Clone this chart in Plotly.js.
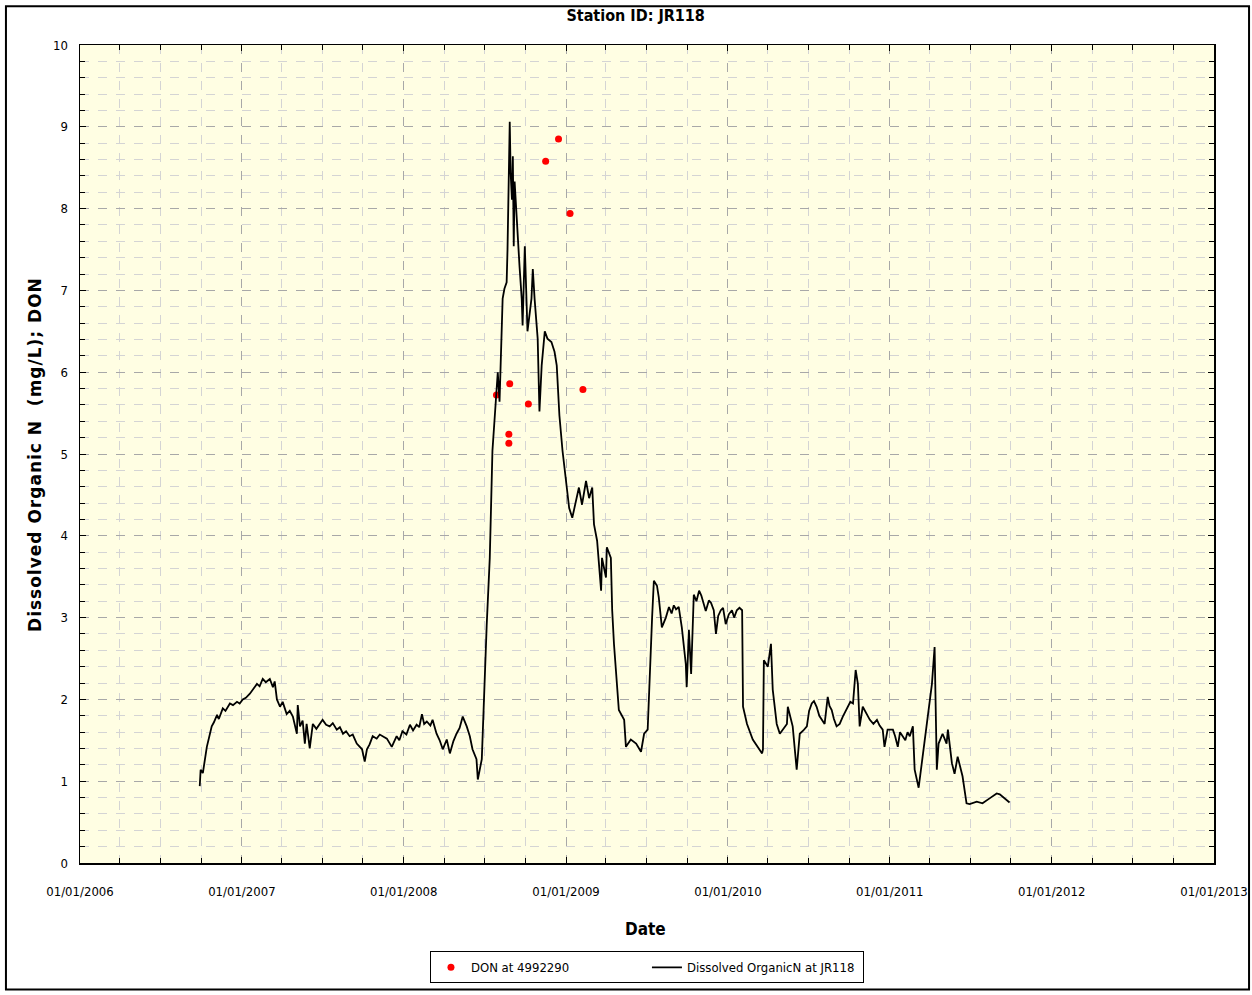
<!DOCTYPE html>
<html>
<head>
<meta charset="utf-8">
<script src="https://cdn.plot.ly/plotly-3.0.1.min.js"></script>
<style>
html,body{margin:0;padding:0;background:#fff;}
#chart{width:1252px;height:995px;}
.annotation[data-index="0"] text{letter-spacing:1px;}
</style>
</head>
<body>
<div id="chart"></div>
<script>
// ---- data ----
const chartTitle = "Station ID: JR118";
const xTitle = "Date";
const yTitle = "Dissolved Organic N&nbsp;&nbsp;(mg/L); DON";
const seriesPointsName = "DON at 4992290";
const seriesLineName = "Dissolved OrganicN at JR118";

const donDates = ["2008-07-28","2008-08-25","2008-08-25","2008-08-27","2008-10-08","2008-11-16","2008-12-15","2009-01-10","2009-02-08"];
const donValues = [5.72,5.24,5.13,5.86,5.61,8.58,8.85,7.94,5.79];

const lineDates = [
"2006-09-28","2006-09-30","2006-10-05","2006-10-14","2006-10-25","2006-10-30","2006-11-06","2006-11-10","2006-11-19","2006-11-25",
"2006-12-05","2006-12-12","2006-12-21","2006-12-27","2007-01-03","2007-01-10","2007-01-19","2007-01-26","2007-02-04","2007-02-10",
"2007-02-17","2007-02-24","2007-03-05","2007-03-12","2007-03-16","2007-03-21","2007-03-28","2007-04-03","2007-04-12","2007-04-19",
"2007-04-26","2007-05-05","2007-05-07","2007-05-12","2007-05-18","2007-05-23","2007-05-27","2007-06-03","2007-06-10","2007-06-18",
"2007-06-26","2007-07-02","2007-07-10","2007-07-18","2007-07-25","2007-08-03","2007-08-10","2007-08-17","2007-08-24","2007-09-01",
"2007-09-08","2007-09-17","2007-09-29","2007-10-05","2007-10-10","2007-10-16","2007-10-23","2007-11-01","2007-11-08","2007-11-16",
"2007-11-24","2007-12-05","2007-12-16","2007-12-22","2007-12-29","2008-01-07","2008-01-15","2008-01-22","2008-01-30","2008-02-05",
"2008-02-11","2008-02-16","2008-02-22","2008-03-01","2008-03-06","2008-03-15","2008-03-22","2008-03-29","2008-04-07","2008-04-14",
"2008-04-22","2008-04-29","2008-05-06","2008-05-13","2008-05-22","2008-05-29","2008-06-04","2008-06-13","2008-06-16","2008-06-25",
"2008-06-27","2008-07-01","2008-07-06","2008-07-13","2008-07-17","2008-07-19","2008-07-24","2008-07-28","2008-07-31","2008-08-04",
"2008-08-09","2008-08-11","2008-08-15","2008-08-20","2008-08-22","2008-08-27","2008-08-29","2008-09-01","2008-09-03","2008-09-05",
"2008-09-07","2008-09-12","2008-09-14","2008-09-18","2008-09-23","2008-09-25","2008-09-30","2008-10-04","2008-10-06","2008-10-15",
"2008-10-18","2008-10-22","2008-10-27","2008-10-29","2008-11-02","2008-11-07","2008-11-14","2008-11-20","2008-11-29","2008-12-06",
"2008-12-11","2008-12-17","2008-12-24","2009-01-01","2009-01-08","2009-01-15","2009-01-24","2009-01-30","2009-02-06","2009-02-15",
"2009-02-22","2009-03-01","2009-03-05","2009-03-12","2009-03-21","2009-03-23","2009-04-01","2009-04-03","2009-04-12","2009-04-15",
"2009-04-19","2009-04-24","2009-04-30","2009-05-12","2009-05-16","2009-05-27","2009-06-08","2009-06-19","2009-06-26","2009-07-04",
"2009-07-11","2009-07-14","2009-07-18","2009-07-25","2009-07-29","2009-08-05","2009-08-14","2009-08-21","2009-08-27","2009-09-01",
"2009-09-06","2009-09-12","2009-09-19","2009-09-28","2009-09-30","2009-10-05","2009-10-10","2009-10-12","2009-10-16","2009-10-22",
"2009-10-28","2009-11-02","2009-11-08","2009-11-12","2009-11-19","2009-11-24","2009-11-30","2009-12-05","2009-12-10","2009-12-16",
"2009-12-21","2009-12-27","2010-01-03","2010-01-10","2010-01-15","2010-01-21","2010-01-27","2010-02-02","2010-02-04","2010-02-13",
"2010-02-26","2010-03-10","2010-03-19","2010-03-21","2010-03-23","2010-04-01","2010-04-08","2010-04-12","2010-04-21","2010-04-28",
"2010-05-14","2010-05-16","2010-05-27","2010-06-05","2010-06-12","2010-06-20","2010-06-28","2010-07-03","2010-07-09","2010-07-14",
"2010-07-20","2010-07-26","2010-08-01","2010-08-07","2010-08-14","2010-08-18","2010-08-23","2010-08-28","2010-09-03","2010-09-10",
"2010-09-17","2010-09-22","2010-09-28","2010-10-04","2010-10-10","2010-10-16","2010-10-21","2010-10-25","2010-11-01","2010-11-08",
"2010-11-17","2010-11-25","2010-12-03","2010-12-09","2010-12-16","2010-12-20","2010-12-27","2011-01-08","2011-01-13","2011-01-19",
"2011-01-24","2011-01-30","2011-02-05","2011-02-10","2011-02-15","2011-02-22","2011-02-26","2011-03-07","2011-03-16","2011-03-28",
"2011-04-06","2011-04-12","2011-04-17","2011-04-21","2011-04-30","2011-05-09","2011-05-12","2011-05-21","2011-05-27","2011-06-03",
"2011-06-14","2011-06-23","2011-06-30","2011-07-16","2011-07-29","2011-08-14","2011-08-30","2011-09-06","2011-09-17","2011-09-28"
];
const lineValues = [
0.94,1.14,1.10,1.42,1.67,1.72,1.81,1.76,1.89,1.86,
1.95,1.93,1.97,1.95,2.00,2.02,2.07,2.12,2.19,2.16,
2.25,2.21,2.25,2.15,2.22,2.00,1.91,1.97,1.82,1.86,
1.79,1.58,1.93,1.67,1.74,1.46,1.70,1.40,1.70,1.64,
1.70,1.75,1.69,1.67,1.71,1.63,1.66,1.58,1.61,1.55,
1.57,1.46,1.39,1.24,1.39,1.45,1.55,1.52,1.57,1.55,
1.52,1.42,1.55,1.50,1.61,1.57,1.69,1.62,1.69,1.66,
1.82,1.70,1.73,1.68,1.75,1.58,1.50,1.39,1.51,1.34,
1.49,1.58,1.65,1.79,1.67,1.55,1.39,1.27,1.02,1.27,
1.60,2.15,2.90,3.73,4.50,5.04,5.44,5.72,6.00,5.64,
6.57,6.90,7.02,7.10,7.50,9.06,8.44,8.11,8.64,7.54,
8.33,7.78,7.59,7.30,6.90,6.57,7.54,6.90,6.50,6.90,
7.26,6.90,6.50,6.41,5.52,6.08,6.50,6.41,6.37,6.25,
6.08,5.47,5.04,4.62,4.34,4.22,4.43,4.59,4.38,4.67,
4.46,4.59,4.14,3.94,3.33,3.73,3.49,3.86,3.73,3.09,
2.68,2.27,1.87,1.75,1.42,1.51,1.46,1.36,1.58,1.63,
2.68,3.00,3.45,3.39,3.25,2.88,3.00,3.13,3.05,3.15,
3.10,3.13,2.88,2.43,2.15,2.85,2.31,2.64,3.28,3.20,
3.33,3.27,3.16,3.08,3.21,3.18,3.09,2.80,3.02,3.09,
3.12,2.92,3.04,3.09,3.00,3.09,3.12,3.09,1.91,1.70,
1.51,1.42,1.34,1.39,2.48,2.40,2.68,2.12,1.70,1.58,
1.70,1.91,1.67,1.14,1.58,1.62,1.67,1.86,1.95,1.98,
1.91,1.80,1.75,1.70,2.03,1.92,1.87,1.76,1.67,1.70,
1.79,1.84,1.91,1.97,1.95,2.36,2.19,1.67,1.91,1.84,
1.75,1.70,1.75,1.68,1.63,1.42,1.63,1.63,1.55,1.42,
1.60,1.55,1.50,1.60,1.55,1.67,1.14,0.92,1.30,1.87,
2.19,2.64,1.14,1.46,1.58,1.46,1.63,1.22,1.09,1.30,
1.06,0.73,0.72,0.75,0.73,0.79,0.85,0.84,0.79,0.74
];

const xRange = ["2006-01-01","2013-01-01"];
const yRange = [0,10];

// ---- chart ----
const fontFam = "'DejaVu Sans Condensed', 'Liberation Sans Narrow', 'DejaVu Sans', sans-serif";
const traces = [
  {
    type: "scatter", mode: "markers", name: seriesPointsName,
    x: donDates, y: donValues,
    marker: {color: "#ff0000", size: 7}
  },
  {
    type: "scatter", mode: "lines", name: seriesLineName,
    x: lineDates, y: lineValues,
    line: {color: "#000000", width: 1.8}
  }
];

const layout = {
  width: 1252, height: 995,
  margin: {l: 80, r: 38, t: 45, b: 128},
  paper_bgcolor: "#ffffff",
  plot_bgcolor: "#fffee3",
  font: {family: fontFam, size: 13, color: "#000"},
  title: {text: "<b>" + chartTitle + "</b>", x: 0.49, xref: "paper", y: 0.985, yref: "container", yanchor: "middle", font: {family: fontFam, size: 16, color: "#000"}},
  showlegend: true,
  legend: {
    orientation: "h", x: 0.3086, xanchor: "left", y: -0.108, yanchor: "top",
    bordercolor: "#000", borderwidth: 1, bgcolor: "#fff",
    entrywidth: 171, entrywidthmode: "pixels",
    font: {family: fontFam, size: 13, color: "#000"}
  },
  xaxis: {
    type: "date", range: xRange,
    tick0: "2006-01-01", dtick: "M12", tickformat: "%m/%d/%Y",
    ticks: "inside", ticklen: 6, tickcolor: "#000", tickwidth: 1,
    showline: true, linecolor: "#000", linewidth: 1.5, mirror: "ticks",
    showgrid: true, gridcolor: "#a8a8a8", griddash: "dash", gridwidth: 1,
    minor: {dtick: "M3", tick0: "2006-01-01", ticks: "inside", ticklen: 5, tickcolor: "#000", showgrid: true, gridcolor: "#d4d4d4", griddash: "dash", gridwidth: 1},
    ticklabelstandoff: 16,
    tickfont: {family: fontFam, size: 13, color: "#000"},
    zeroline: false, fixedrange: true
  },
  yaxis: {
    range: yRange, dtick: 1, tick0: 0,
    ticks: "inside", ticklen: 6, tickcolor: "#000", tickwidth: 1,
    showline: true, linecolor: "#000", linewidth: 1.5, mirror: "ticks",
    showgrid: true, gridcolor: "#a8a8a8", griddash: "dash", gridwidth: 1,
    minor: {dtick: 0.2, ticks: "inside", ticklen: 5, tickcolor: "#000", showgrid: true, gridcolor: "#d4d4d4", griddash: "dash", gridwidth: 1},
    ticklabelstandoff: 8,
    tickfont: {family: fontFam, size: 13, color: "#000"},
    zeroline: false, fixedrange: true
  },
  annotations: [
    {text: "<b>" + yTitle + "</b>", xref: "paper", yref: "paper", x: -0.0397, y: 0.5, xanchor: "center", yanchor: "middle", textangle: -90, showarrow: false, font: {family: "'DejaVu Sans', Verdana, sans-serif", size: 17, color: "#000"}},
    {text: "<b>" + xTitle + "</b>", xref: "paper", yref: "paper", x: 0.499, y: -0.081, xanchor: "center", yanchor: "middle", showarrow: false, font: {family: fontFam, size: 17, color: "#000"}}
  ],
  shapes: [
    {type: "rect", xref: "paper", yref: "paper", x0: -0.0653, x1: 1.0309, y0: -0.1545, y1: 1.0474, line: {color: "#000", width: 2}, fillcolor: "rgba(0,0,0,0)", layer: "below"}
  ]
};

Plotly.newPlot("chart", traces, layout, {staticPlot: true, displayModeBar: false});
</script>
</body>
</html>
